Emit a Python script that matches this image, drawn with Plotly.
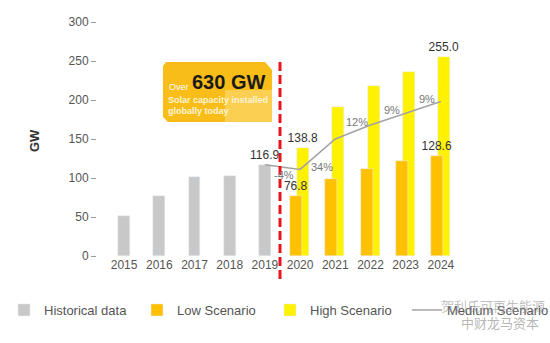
import plotly.graph_objects as go

years = ["2015", "2016", "2017", "2018", "2019", "2020", "2021", "2022", "2023", "2024"]
hist_years = ["2015", "2016", "2017", "2018", "2019"]
hist_vals = [51, 77, 101, 103, 116.9]
scen_years = ["2020", "2021", "2022", "2023", "2024"]
low_vals = [76.8, 99, 111.5, 122, 128.6]
high_vals = [138.8, 191, 218, 236, 255.0]
med_years = ["2019", "2020", "2021", "2022", "2023", "2024"]
med_vals = [116.9, 111, 150, 168, 183, 198]
growth_labels = ["-4%", "34%", "12%", "9%", "9%"]
growth_pos_x = [4.55, 5.63, 6.62, 7.61, 8.6]
growth_pos_y = [104, 114, 172, 187, 201]

hist_text = ["", "", "", "", "116.9"]
low_text = ["76.8", "", "", "", "128.6"]
high_text = ["138.8", "", "", "", "255.0"]

FONT = "Liberation Sans, Arial, sans-serif"
GRAY = "#c8c8c8"
ORANGE = "#FFC000"
YELLOW = "#FFF200"

fig = go.Figure()
fig.add_trace(go.Bar(
    x=hist_years, y=hist_vals, name="Historical data", marker_color=GRAY,
    width=0.34, text=hist_text, textposition="outside", cliponaxis=False,
    constraintext="none", textfont=dict(size=12, color="#333"), legend="legend",
))
fig.add_trace(go.Bar(
    x=scen_years, y=high_vals, name="High Scenario", marker_color=YELLOW,
    width=0.34, offset=-0.08, text=high_text, textposition="outside", cliponaxis=False,
    constraintext="none", textfont=dict(size=12, color="#333"), legend="legend3",
))
fig.add_trace(go.Bar(
    x=scen_years, y=low_vals, name="Low Scenario", marker_color=ORANGE,
    width=0.34, offset=-0.28, text=low_text, textposition="outside", cliponaxis=False,
    constraintext="none", textfont=dict(size=12, color="#333"), legend="legend2",
))
fig.add_trace(go.Scatter(
    x=med_years, y=med_vals, name="Medium Scenario", mode="lines",
    line=dict(color="#a3a3a3", width=1.5), legend="legend4",
))

for t, gx, gy in zip(growth_labels, growth_pos_x, growth_pos_y):
    fig.add_annotation(x=gx, y=gy, xref="x", yref="y", text=t, showarrow=False,
                       xanchor="center", font=dict(size=11, color="#777", family=FONT))

def px2paper(px, py):
    return (px - 97) / 365, (256 - py) / 234

# callout box
pts = [(163, 66), (166, 62), (265, 62), (272, 70), (272, 122), (168, 122), (163, 117)]
path = ""
for i, (a, b) in enumerate(pts):
    xp, yp = px2paper(a, b)
    path += ("M" if i == 0 else "L") + f"{xp:.4f},{yp:.4f}"
path += "Z"
fig.add_shape(type="path", xref="paper", yref="paper", path=path,
              fillcolor="#F8BD19", line=dict(width=0), layer="above")
x0, y0 = px2paper(225, 122)
x1, y1 = px2paper(272, 90)
fig.add_shape(type="rect", xref="paper", yref="paper", x0=x0, y0=y0, x1=x1, y1=y1,
              fillcolor="rgba(255,240,190,0.35)", line=dict(width=0), layer="above")

xa, ya = px2paper(167, 87)
fig.add_annotation(x=xa, y=ya, xref="paper", yref="paper", text="Over", showarrow=False,
                   xanchor="left", yanchor="middle", font=dict(size=9, color="white", family=FONT))
xa, ya = px2paper(190, 82)
fig.add_annotation(x=xa, y=ya, xref="paper", yref="paper", text="<b>630 GW</b>", showarrow=False,
                   xanchor="left", yanchor="middle", font=dict(size=20, color="#1a1a1a", family=FONT))
xa, ya = px2paper(166, 100)
fig.add_annotation(x=xa, y=ya, xref="paper", yref="paper", text="<b>Solar capacity installed</b>",
                   showarrow=False, xanchor="left", yanchor="middle",
                   font=dict(size=9, color="#FFF4D6", family=FONT))
xa, ya = px2paper(166, 111)
fig.add_annotation(x=xa, y=ya, xref="paper", yref="paper", text="<b>globally today</b>",
                   showarrow=False, xanchor="left", yanchor="middle",
                   font=dict(size=9, color="#FFF4D6", family=FONT))

# red dashed divider
xr, yt = px2paper(280, 62)
_, yb = px2paper(280, 279)
fig.add_shape(type="line", xref="paper", yref="paper", x0=xr, x1=xr, y0=yt, y1=yb,
              line=dict(color="#E8141C", width=3, dash="9px,4px"), layer="above")

# y axis title
xa, ya = px2paper(34, 140)
fig.add_annotation(x=xa, y=ya, xref="paper", yref="paper", text="<b>GW</b>", showarrow=False,
                   xanchor="center", yanchor="middle",
                   textangle=-90, font=dict(size=13, color="#333", family=FONT))

# watermark (overlaps the last legend entry, as in the source image)
xa, ya = px2paper(493, 305)
fig.add_annotation(x=xa, y=ya, xref="paper", yref="paper",
                   text="贺利氏可再生能源", showarrow=False, xanchor="center", yanchor="middle",
                   font=dict(size=13, color="rgba(150,150,150,0.6)", family="Noto Sans CJK SC"))
xa, ya = px2paper(500, 322)
fig.add_annotation(x=xa, y=ya, xref="paper", yref="paper",
                   text="中财龙马资本", showarrow=False, xanchor="center", yanchor="middle",
                   font=dict(size=13, color="rgba(150,150,150,0.7)", family="Noto Sans CJK SC"))

leg_y = 1 - 310 / 343
def leg(xpx):
    return dict(orientation="h", xref="container", yref="container", x=xpx / 550, y=leg_y,
                xanchor="left", yanchor="middle", font=dict(size=13, color="#555"))

fig.update_layout(
    width=550, height=343,
    margin=dict(l=97, r=88, t=22, b=87),
    paper_bgcolor="white", plot_bgcolor="white",
    barmode="overlay", bargap=0,
    font=dict(family=FONT, color="#555"),
    showlegend=True,
    legend=leg(4), legend2=leg(137), legend3=leg(270), legend4=leg(407),
    xaxis=dict(type="category", categoryorder="array", categoryarray=years,
               range=[-0.77, 9.6], showline=False, showgrid=False, zeroline=False,
               ticks="", tickfont=dict(size=12, color="#555")),
    yaxis=dict(range=[0, 300], tickvals=[0, 50, 100, 150, 200, 250, 300],
               showline=False, showgrid=False, zeroline=False,
               ticks="outside", ticklen=5, tickcolor="#999", tickwidth=1,
               tickfont=dict(size=12, color="#555")),
)

fig.write_html("out.html")
